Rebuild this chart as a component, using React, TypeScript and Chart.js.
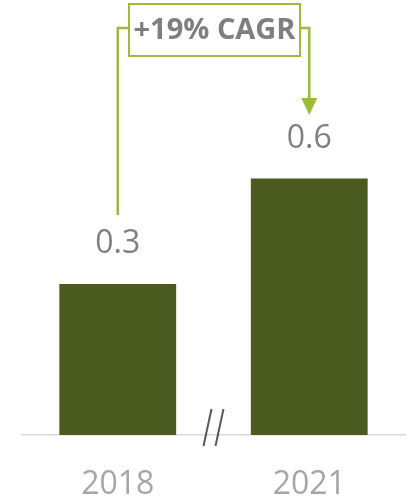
import React, { useEffect, useRef } from "react";
import { Chart, registerables } from "chart.js";

Chart.register(...registerables);

const categories = ["2018", "2021"];
const values = [0.33, 0.56];
const cagrLabel = "+19% CAGR";

const BAR_COLOR = "#4B5A1F";
const LINE_COLOR = "#9BBB3B";
const FONT = "'Open Sans', 'DejaVu Sans', sans-serif";

const overlayPlugin = {
  id: "overlay",
  afterDatasetsDraw(chart: any) {
    const ctx = chart.ctx;
    const meta = chart.getDatasetMeta(0);
    const bars = meta.data;
    const area = chart.chartArea;
    ctx.save();

    // data labels
    ctx.font = `32px ${FONT}`;
    ctx.fillStyle = "#808080";
    ctx.textAlign = "center";
    ctx.textBaseline = "alphabetic";
    bars.forEach((b: any, i: number) => {
      ctx.fillText(values[i].toFixed(1), b.x, b.y - 31);
    });

    // axis break marks
    const midX = (bars[0].x + bars[1].x) / 2;
    const by = area.bottom;
    ctx.strokeStyle = "#595959";
    ctx.lineWidth = 2;
    ctx.lineCap = "butt";
    [-6, 6].forEach((dx) => {
      ctx.beginPath();
      ctx.moveTo(midX + dx + 4, by - 26);
      ctx.lineTo(midX + dx - 4, by + 11);
      ctx.stroke();
    });

    // CAGR annotation
    const x1 = bars[0].x;
    const x2 = bars[1].x;
    const boxL = 129;
    const boxR = 300;
    const boxT = 4;
    const boxB = 56;
    const lineY = 28;
    ctx.strokeStyle = LINE_COLOR;
    ctx.lineWidth = 2.5;
    ctx.lineJoin = "miter";
    ctx.beginPath();
    ctx.moveTo(x1, bars[0].y - 69);
    ctx.lineTo(x1, lineY);
    ctx.lineTo(boxL, lineY);
    ctx.stroke();
    ctx.beginPath();
    ctx.moveTo(boxR, lineY);
    ctx.lineTo(x2, lineY);
    ctx.lineTo(x2, 99);
    ctx.stroke();
    ctx.fillStyle = LINE_COLOR;
    ctx.beginPath();
    ctx.moveTo(x2 - 8, 98);
    ctx.lineTo(x2 + 8, 98);
    ctx.lineTo(x2, 115);
    ctx.closePath();
    ctx.fill();

    ctx.lineWidth = 2;
    ctx.strokeRect(boxL, boxT, boxR - boxL, boxB - boxT);
    ctx.fillStyle = "#7F7F7F";
    ctx.font = `bold 29px ${FONT}`;
    ctx.textAlign = "center";
    ctx.textBaseline = "middle";
    ctx.fillText(cagrLabel, (boxL + boxR) / 2, (boxT + boxB) / 2 + 1);

    ctx.restore();
  },
};

export default function App() {
  const ref = useRef<HTMLCanvasElement>(null);
  useEffect(() => {
    if (!ref.current) return;
    const chart = new Chart(ref.current, {
      type: "bar",
      data: {
        labels: categories,
        datasets: [
          {
            data: values,
            backgroundColor: BAR_COLOR,
            borderWidth: 0,
            categoryPercentage: 1,
            barPercentage: 0.61,
          },
        ],
      },
      options: {
        animation: false,
        responsive: false,
        layout: { padding: { left: 22, right: 8, top: 0, bottom: 0 } },
        plugins: {
          legend: { display: false },
          tooltip: { enabled: false },
        },
        scales: {
          x: {
            grid: { display: false, drawTicks: false },
            border: { display: true, color: "#D9D9D9", width: 1.5 },
            ticks: {
              color: "#A6A6A6",
              font: { family: FONT, size: 32 },
              padding: 31,
            },
            afterFit: (scale: any) => {
              scale.height = 68;
            },
          },
          y: {
            display: false,
            min: 0,
            max: 0.95,
          },
        },
      },
      plugins: [overlayPlugin],
    });
    return () => chart.destroy();
  }, []);
  return (
    <div style={{ position: "fixed", left: 0, top: 0, width: 413, height: 503, background: "#fff" }}>
      <canvas ref={ref} width={413} height={503} />
    </div>
  );
}
